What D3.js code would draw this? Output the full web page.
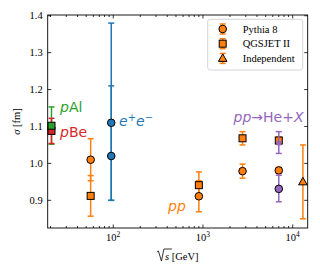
<!DOCTYPE html>
<html>
<head>
<meta charset="utf-8">
<script src="https://cdn.jsdelivr.net/npm/d3@7"></script>
<style>
  body { margin: 0; background: #fff; }
  svg { display: block; }
</style>
</head>
<body>
<script>
// values
const pythiaX = [56, 900, 2760, 7000];
const pythiaY = [1.010, 0.911, 0.979, 0.981];
const pythiaErr = [0.057, 0.042, 0.019, 0.008];

const qgsX = [56, 900, 2760, 7000];
const qgsY = [0.912, 0.941, 1.068, 1.062];
const qgsErr = [0.055, 0.036, 0.018, 0.01];

const indepX = [13000];
const indepY = [0.950];
const indepErr = [0.100];

const heCircle = {x: 7000, y: 0.931, lo: 0.896, hi: 0.968};
const heSquare = {x: 7000, y: 1.057, lo: 1.027, hi: 1.086};

const pAl = {x: 20.5, y: 1.102, lo: 1.052, hi: 1.153};
const pBe = {x: 20.5, y: 1.088, lo: 1.054, hi: 1.122};

const eeX = [95, 95];
const eeY = [1.110, 1.020];
const eeLo = [0.900, 0.900];
const eeHi = [1.380, 1.210];

const yTicks = [0.9, 1.0, 1.1, 1.2, 1.3, 1.4];
const xTicks = [100, 1000, 10000];
const legendLabels = ["Pythia 8", "QGSJET II", "Independent"];

const C = {orange: "#ff7f0e", blue: "#1f77b4", green: "#2ca02c", red: "#d62728", purple: "#9467bd"};

const width = 320, height = 280;
const margin = {top: 15, right: 12.3, bottom: 52, left: 47.7};

const svg = d3.select("body").append("svg")
  .attr("width", width).attr("height", height);

const x = d3.scaleLog().domain([18.6, 14700]).range([margin.left, width - margin.right]);
const y = d3.scaleLinear().domain([0.825, 1.402]).range([height - margin.bottom, margin.top]);

const serif = "'Liberation Serif', 'DejaVu Serif', serif";
const sans = "'DejaVu Sans', sans-serif";

// ticks (inward, all sides)
const minor = [];
[10, 100, 1000, 10000].forEach(d => { for (let k = 2; k <= 9; k++) minor.push(d * k); });
const minorIn = minor.filter(v => v > 18.6 && v < 14700);

const tk = svg.append("g").attr("stroke", "#000").attr("stroke-width", 0.8);
const x0 = margin.left, x1 = width - margin.right, y0 = height - margin.bottom, y1 = margin.top;
xTicks.forEach(v => {
  tk.append("line").attr("x1", x(v)).attr("x2", x(v)).attr("y1", y0).attr("y2", y0 - 3.5);
  tk.append("line").attr("x1", x(v)).attr("x2", x(v)).attr("y1", y1).attr("y2", y1 + 3.5);
});
minorIn.forEach(v => {
  tk.append("line").attr("x1", x(v)).attr("x2", x(v)).attr("y1", y0).attr("y2", y0 - 2);
  tk.append("line").attr("x1", x(v)).attr("x2", x(v)).attr("y1", y1).attr("y2", y1 + 2);
});
yTicks.forEach(v => {
  tk.append("line").attr("x1", x0).attr("x2", x0 + 3.5).attr("y1", y(v)).attr("y2", y(v));
  tk.append("line").attr("x1", x1).attr("x2", x1 - 3.5).attr("y1", y(v)).attr("y2", y(v));
});

// tick labels
svg.append("g").selectAll("text").data(yTicks).join("text")
  .attr("x", x0 - 5).attr("y", d => y(d) + 3.5)
  .attr("text-anchor", "end")
  .attr("font-family", serif).attr("font-size", 10.5)
  .text(d3.format(".1f"));

const xl = svg.append("g").selectAll("text").data(xTicks).join("text")
  .attr("x", d => x(d)).attr("y", y0 + 13)
  .attr("text-anchor", "middle")
  .attr("font-family", serif).attr("font-size", 10.5);
xl.append("tspan").text("10");
xl.append("tspan").attr("dy", -4).attr("font-size", 7.5).text(d => Math.round(Math.log10(d)));

// axis labels
const xlab = svg.append("text")
  .attr("x", (x0 + x1) / 2 + 4).attr("y", 260)
  .attr("text-anchor", "middle")
  .attr("font-family", serif).attr("font-size", 10.5);
xlab.append("tspan").attr("font-style", "italic").text("s");
xlab.append("tspan").text(" [GeV]");
// radical sign
const bb = xlab.node().getBBox();
svg.append("path")
  .attr("d", `M${bb.x - 8},${252} L${bb.x - 6.5},${251} L${bb.x - 3.5},${261} L${bb.x - 1},${249} L${bb.x + 7},${249}`)
  .attr("fill", "none").attr("stroke", "#000").attr("stroke-width", 0.8);

svg.append("text")
  .attr("transform", `translate(20,${(y0 + y1) / 2}) rotate(-90)`)
  .attr("text-anchor", "middle")
  .attr("font-family", serif).attr("font-size", 10.5)
  .call(t => {
    t.append("tspan").attr("font-style", "italic").text("σ");
    t.append("tspan").text(" [fm]");
  });

// frame
svg.append("rect")
  .attr("x", x0).attr("y", y1).attr("width", x1 - x0).attr("height", y0 - y1)
  .attr("fill", "none").attr("stroke", "#000").attr("stroke-width", 0.9);

const plot = svg.append("g");

function errbar(g, xv, lo, hi, color) {
  const cx = x(xv);
  g.append("line").attr("x1", cx).attr("x2", cx).attr("y1", y(lo)).attr("y2", y(hi))
    .attr("stroke", color).attr("stroke-width", 1.5);
  [lo, hi].forEach(v => g.append("line")
    .attr("x1", cx - 3).attr("x2", cx + 3).attr("y1", y(v)).attr("y2", y(v))
    .attr("stroke", color).attr("stroke-width", 1.5));
}
function marker(g, shape, cx, cy, color) {
  if (shape === "circle") {
    g.append("circle").attr("cx", cx).attr("cy", cy).attr("r", 3.8)
      .attr("fill", color).attr("stroke", "#000").attr("stroke-width", 1);
  } else if (shape === "square") {
    g.append("rect").attr("x", cx - 3.5).attr("y", cy - 3.5).attr("width", 7).attr("height", 7)
      .attr("fill", color).attr("stroke", "#000").attr("stroke-width", 1);
  } else {
    g.append("path").attr("d", `M${cx},${cy - 4.5} L${cx + 4.3},${cy + 3} L${cx - 4.3},${cy + 3} Z`)
      .attr("fill", color).attr("stroke", "#000").attr("stroke-width", 1);
  }
}

// pAl / pBe
errbar(plot, pAl.x, pAl.lo, pAl.hi, C.green);
errbar(plot, pBe.x, pBe.lo, pBe.hi, C.red);
marker(plot, "square", x(pBe.x), y(pBe.y), C.red);
marker(plot, "square", x(pAl.x), y(pAl.y), C.green);

// e+e-
eeX.forEach((d, i) => errbar(plot, d, eeLo[i], eeHi[i], C.blue));
eeX.forEach((d, i) => marker(plot, "circle", x(d), y(eeY[i]), C.blue));

// pp
pythiaX.forEach((d, i) => errbar(plot, d, pythiaY[i] - pythiaErr[i], pythiaY[i] + pythiaErr[i], C.orange));
qgsX.forEach((d, i) => errbar(plot, d, qgsY[i] - qgsErr[i], qgsY[i] + qgsErr[i], C.orange));
indepX.forEach((d, i) => errbar(plot, d, indepY[i] - indepErr[i], indepY[i] + indepErr[i], C.orange));
pythiaX.forEach((d, i) => marker(plot, "circle", x(d), y(pythiaY[i]), C.orange));
qgsX.forEach((d, i) => marker(plot, "square", x(d), y(qgsY[i]), C.orange));
indepX.forEach((d, i) => marker(plot, "triangle", x(d), y(indepY[i]), C.orange));

// pp -> He + X
errbar(plot, heCircle.x, heCircle.lo, heCircle.hi, C.purple);
errbar(plot, heSquare.x, heSquare.lo, heSquare.hi, C.purple);
marker(plot, "circle", x(heCircle.x), y(heCircle.y), C.purple);
plot.append("rect").attr("x", x(heSquare.x) - 2.5).attr("y", y(heSquare.y) - 1.5)
  .attr("width", 5).attr("height", 4.5).attr("fill", C.purple);

// text labels
function label(xp, yp, color, parts) {
  const t = svg.append("text").attr("x", xp).attr("y", yp)
    .attr("font-family", sans).attr("font-size", 14).attr("fill", color);
  parts.forEach(p => {
    const s = t.append("tspan").text(p.t);
    if (p.i) s.attr("font-style", "italic");
    if (p.dy) s.attr("dy", p.dy);
    if (p.fs) s.attr("font-size", p.fs);
  });
}
label(60, 112, C.green, [{t: "p", i: 1}, {t: "Al"}]);
label(60, 136.5, C.red, [{t: "p", i: 1}, {t: "Be"}]);
label(119, 125.5, C.blue, [{t: "e", i: 1}, {t: "+", dy: -5, fs: 10}, {t: "e", i: 1, dy: 5}, {t: "−", dy: -5, fs: 10}]);
label(168, 211, C.orange, [{t: "pp", i: 1}]);
label(233.5, 121.5, C.purple, [{t: "pp", i: 1}, {t: "→He+"}, {t: "X", i: 1}]);

// legend
const lg = svg.append("g");
lg.append("rect").attr("x", 207.7).attr("y", 19.3).attr("width", 95).attr("height", 50.7)
  .attr("rx", 2.5).attr("fill", "#fff").attr("fill-opacity", 0.8)
  .attr("stroke", "#d0d0d0").attr("stroke-width", 0.9);
const shapes = ["circle", "square", "triangle"];
legendLabels.forEach((lab, i) => {
  const ly = 29 + i * 14.7;
  const cx = 222.7;
  lg.append("line").attr("x1", cx).attr("x2", cx).attr("y1", ly - 5).attr("y2", ly + 5)
    .attr("stroke", C.orange).attr("stroke-width", 1.5);
  [ly - 5, ly + 5].forEach(v => lg.append("line").attr("x1", cx - 3).attr("x2", cx + 3)
    .attr("y1", v).attr("y2", v).attr("stroke", C.orange).attr("stroke-width", 1.5));
  marker(lg, shapes[i], cx, ly, C.orange);
  lg.append("text").attr("x", 242.7).attr("y", ly + 3.5)
    .attr("font-family", serif).attr("font-size", 10.5).text(lab);
});
</script>
</body>
</html>
